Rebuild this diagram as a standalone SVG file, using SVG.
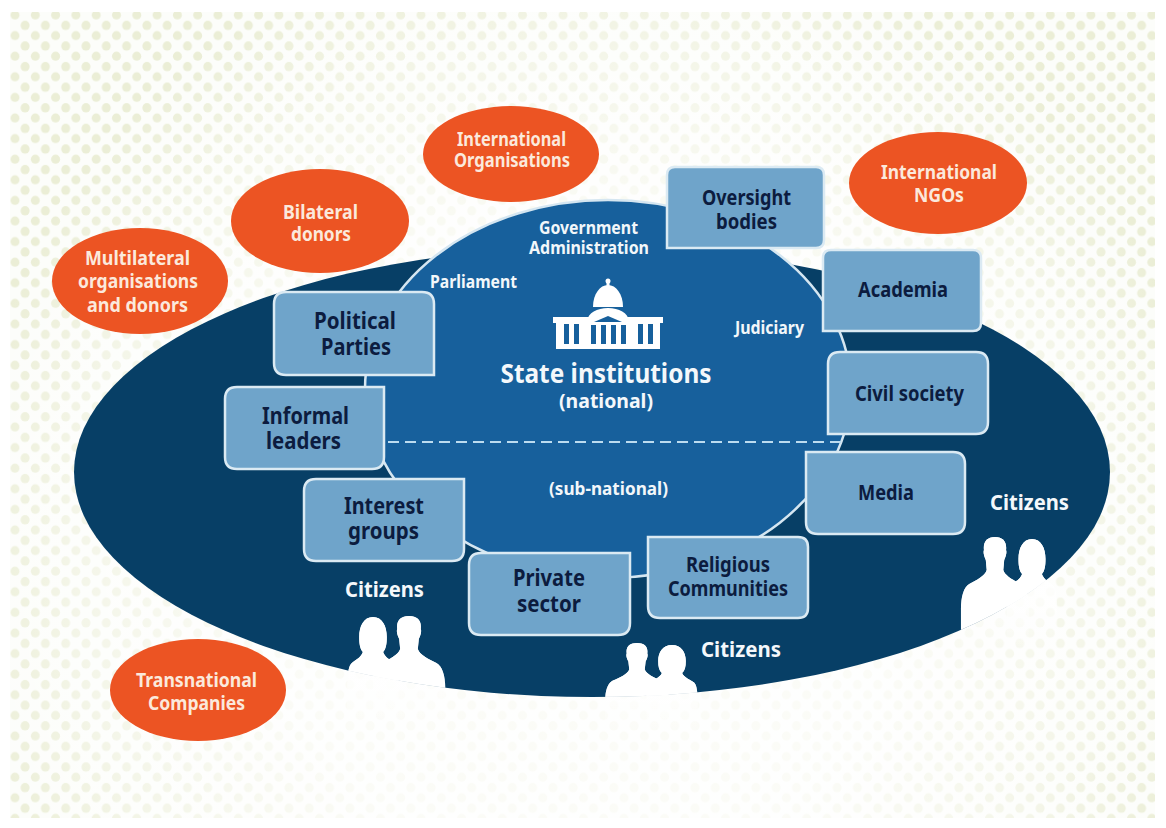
<svg xmlns="http://www.w3.org/2000/svg" width="1166" height="828" viewBox="0 0 1166 828">
<style>
text{font-family:"Noto Sans","Liberation Sans",sans-serif;font-weight:700;text-anchor:middle}
.o{fill:#ec5423}
.ot{fill:#fbe9dc;font-size:19px}
.b{fill:#6fa4ca;stroke:#dbeaf3;stroke-width:2.5}
.bt{fill:#0c1c3f;font-size:21px}
.bl{fill:#0c1c3f;font-size:23px}
.w{fill:#f2f7fa;font-size:17px}
.c{fill:#f4f8fb;font-size:21px}
.s{fill:#fff}
.f{fill:url(#pf)}
</style>
<defs>
<pattern id="dots" width="20.3" height="20.6" patternUnits="userSpaceOnUse" x="4.8" y="5">
<circle cx="10.2" cy="10" r="4.500" fill="#ebeed6"/>
<circle cx="20.3" cy="20.3" r="4.500" fill="#ebeed6"/>
<circle cx="0" cy="20.3" r="4.500" fill="#ebeed6"/>
<circle cx="20.3" cy="0" r="4.500" fill="#ebeed6"/>
<circle cx="0" cy="0" r="4.500" fill="#ebeed6"/>
</pattern>
<radialGradient id="fade" gradientUnits="userSpaceOnUse" cx="590" cy="560" r="640">
<stop offset="0.5" stop-color="#fff" stop-opacity="0.8"/>
<stop offset="0.8" stop-color="#fff" stop-opacity="0.45"/>
<stop offset="1" stop-color="#fff" stop-opacity="0"/>
</radialGradient>
<linearGradient id="pf" gradientUnits="userSpaceOnUse" x1="0" y1="40" x2="0" y2="112">
<stop offset="0" stop-color="#fff" stop-opacity="0.95"/>
<stop offset="1" stop-color="#fff" stop-opacity="0"/>
</linearGradient>
<clipPath id="field"><ellipse cx="592" cy="472" rx="518" ry="225"/></clipPath>
<path id="man" d="M0,0C9,0 13,5 12,13C13,15 12,19 10,23L9,33C11,39 20,43 28,47C34,50 37,60 37,72L37,112L-37,112L-37,72C-37,60 -34,50 -28,47C-20,43 -11,39 -9,33L-10,23C-12,19 -13,15 -12,13C-13,5 -9,0 0,0Z"/>
<path id="woman" d="M0,0C10,0 15,9 15,20C15,27 14,32 11,35C13,41 20,43 24,47C27,50 28,60 28,72L28,112L-28,112L-28,72C-28,60 -27,50 -24,47C-20,43 -13,41 -11,35C-14,32 -15,27 -15,20C-15,9 -10,0 0,0Z"/>
</defs>
<rect width="1166" height="828" fill="#fff"/>
<g id="background">
<rect x="10" y="12" width="1145" height="806" fill="#fcfdfa"/>
<rect x="10" y="12" width="1145" height="806" fill="url(#dots)"/>
<rect x="10" y="12" width="1145" height="806" fill="url(#fade)"/>
</g>
<g id="citizens-field"><ellipse cx="592" cy="472" rx="518" ry="225" fill="#073f66"/></g>
<g id="state-institutions">
<ellipse cx="608" cy="389" rx="243" ry="189" fill="#17609c" stroke="#d5e6f1" stroke-width="2.5"/>
<g id="capitol" fill="#fff">
<circle cx="608" cy="281" r="2.5"/>
<rect x="606.500" y="281" width="3" height="7"/>
<path d="M593,307C593,294 600,285 608,285C616,285 623,294 623,307Z"/>
<path d="M587,321C588,313 597,308 608,308C619,308 628,313 629,321Z"/>
<rect x="553" y="317" width="110" height="6"/>
<rect x="556" y="323" width="104" height="26"/>
<path d="M594,322L608,316L622,322Z" fill="#17609c"/>
<g fill="#17609c">
<rect x="564" y="324" width="5" height="20"/><rect x="574" y="324" width="5" height="20"/>
<rect x="591" y="325" width="5" height="19"/><rect x="601" y="325" width="5" height="19"/><rect x="611" y="325" width="5" height="19"/><rect x="621" y="325" width="5" height="19"/>
<rect x="638" y="324" width="5" height="20"/><rect x="648" y="324" width="5" height="20"/>
</g>
</g>
<text x="606" y="383" font-size="26" fill="#f4f8fb" textLength="211" lengthAdjust="spacingAndGlyphs">State institutions</text>
<text x="606" y="408" font-size="20" fill="#f4f8fb" textLength="94" lengthAdjust="spacingAndGlyphs">(national)</text>
<text x="608.500" y="495" class="w" textLength="119" lengthAdjust="spacingAndGlyphs">(sub-national)</text>
<text x="588.500" y="234" class="w" textLength="99" lengthAdjust="spacingAndGlyphs">Government</text>
<text x="589" y="254" class="w" textLength="120" lengthAdjust="spacingAndGlyphs">Administration</text>
<text x="473.500" y="288" class="w" textLength="87" lengthAdjust="spacingAndGlyphs">Parliament</text>
<text x="769.500" y="334" class="w" textLength="69" lengthAdjust="spacingAndGlyphs">Judiciary</text>
</g>
<g id="connectors">
<line x1="388" y1="442" x2="845" y2="442" stroke="#bcdcf0" stroke-width="2" stroke-dasharray="11 6"/>
</g>
<g id="political-parties"><path class="b" d="M286,292H422Q434,292 434,304V375H286Q274,375 274,363V304Q274,292 286,292Z"/><text x="355" y="329" class="bl" textLength="82" lengthAdjust="spacingAndGlyphs">Political</text><text x="356" y="355" class="bl" textLength="70" lengthAdjust="spacingAndGlyphs">Parties</text></g>
<g id="informal-leaders"><path class="b" d="M237,387H384V457Q384,469 372,469H237Q225,469 225,457V399Q225,387 237,387Z"/><text x="305.500" y="424" class="bl" textLength="87" lengthAdjust="spacingAndGlyphs">Informal</text><text x="303.500" y="449" class="bl" textLength="75" lengthAdjust="spacingAndGlyphs">leaders</text></g>
<g id="interest-groups"><path class="b" d="M316,479H464V549Q464,561 452,561H316Q304,561 304,549V491Q304,479 316,479Z"/><text x="384" y="514" class="bl" textLength="80" lengthAdjust="spacingAndGlyphs">Interest</text><text x="383.500" y="539" class="bl" textLength="71" lengthAdjust="spacingAndGlyphs">groups</text></g>
<g id="private-sector"><path class="b" d="M481,553H630V623Q630,635 618,635H481Q469,635 469,623V565Q469,553 481,553Z"/><text x="549" y="586" class="bl" textLength="72" lengthAdjust="spacingAndGlyphs">Private</text><text x="549" y="612" class="bl" textLength="64" lengthAdjust="spacingAndGlyphs">sector</text></g>
<g id="religious-communities"><path class="b" d="M648,537H798Q808,537 808,547V608Q808,618 798,618H660Q648,618 648,606Z"/><text x="728" y="572" class="bt" textLength="84" lengthAdjust="spacingAndGlyphs">Religious</text><text x="728" y="596" class="bt" textLength="120" lengthAdjust="spacingAndGlyphs">Communities</text></g>
<g id="media"><path class="b" d="M806,452H953Q965,452 965,464V522Q965,534 953,534H818Q806,534 806,522Z"/><text x="886" y="500" class="bt" textLength="56" lengthAdjust="spacingAndGlyphs">Media</text></g>
<g id="civil-society"><path class="b" d="M840,352H976Q988,352 988,364V422Q988,434 976,434H828V364Q828,352 840,352Z"/><text x="909.500" y="401" class="bt" textLength="109" lengthAdjust="spacingAndGlyphs">Civil society</text></g>
<g id="academia"><path class="b" d="M831,250H973Q981,250 981,258V323Q981,331 973,331H823V258Q823,250 831,250Z"/><text x="903" y="297" class="bt" textLength="90" lengthAdjust="spacingAndGlyphs">Academia</text></g>
<g id="oversight-bodies"><path class="b" d="M675,167H816Q824,167 824,175V240Q824,248 816,248H667V175Q667,167 675,167Z"/><text x="746.500" y="205" class="bt" textLength="89" lengthAdjust="spacingAndGlyphs">Oversight</text><text x="746.500" y="229" class="bt" textLength="61" lengthAdjust="spacingAndGlyphs">bodies</text></g>
<g id="international-organisations"><ellipse class="o" cx="511" cy="154" rx="88" ry="48"/><text x="511.500" y="146" class="ot" textLength="109" lengthAdjust="spacingAndGlyphs">International</text><text x="512" y="167" class="ot" textLength="116" lengthAdjust="spacingAndGlyphs">Organisations</text></g>
<g id="international-ngos"><ellipse class="o" cx="938" cy="183" rx="89" ry="51"/><text x="939" y="179" class="ot" textLength="116" lengthAdjust="spacingAndGlyphs">International</text><text x="939" y="202" class="ot" textLength="50" lengthAdjust="spacingAndGlyphs">NGOs</text></g>
<g id="bilateral-donors"><ellipse class="o" cx="320" cy="221" rx="89" ry="52"/><text x="320.500" y="219" class="ot" textLength="75" lengthAdjust="spacingAndGlyphs">Bilateral</text><text x="321" y="241" class="ot" textLength="60" lengthAdjust="spacingAndGlyphs">donors</text></g>
<g id="multilateral-organisations"><ellipse class="o" cx="140" cy="281" rx="88" ry="53"/><text x="137.500" y="265" class="ot" textLength="105" lengthAdjust="spacingAndGlyphs">Multilateral</text><text x="138" y="288" class="ot" textLength="120" lengthAdjust="spacingAndGlyphs">organisations</text><text x="137.500" y="312" class="ot" textLength="101" lengthAdjust="spacingAndGlyphs">and donors</text></g>
<g id="transnational-companies"><ellipse class="o" cx="198" cy="690" rx="88" ry="51"/><text x="196.500" y="687" class="ot" textLength="121" lengthAdjust="spacingAndGlyphs">Transnational</text><text x="196.500" y="710" class="ot" textLength="97" lengthAdjust="spacingAndGlyphs">Companies</text></g>
<g id="citizens-left">
<use href="#woman" class="f" transform="translate(373,617) scale(.92,1)"/>
<use href="#man" class="f" transform="translate(409,616) scale(.98,1)"/>
<g clip-path="url(#field)">
<use href="#woman" class="s" transform="translate(373,617) scale(.92,1)"/>
<use href="#man" class="s" transform="translate(409,616) scale(.98,1)"/>
</g>
<text x="384.500" y="597" class="c" textLength="79" lengthAdjust="spacingAndGlyphs">Citizens</text>
</g>
<g id="citizens-middle">
<use href="#man" class="f" transform="translate(637,643) scale(.86,.8)"/>
<use href="#woman" class="f" transform="translate(672,645) scale(.92,.8)"/>
<g clip-path="url(#field)">
<use href="#man" class="s" transform="translate(637,643) scale(.86,.8)"/>
<use href="#woman" class="s" transform="translate(672,645) scale(.92,.8)"/>
</g>
<text x="741" y="657" class="c" textLength="80" lengthAdjust="spacingAndGlyphs">Citizens</text>
</g>
<g id="citizens-right">
<use href="#man" class="f" transform="translate(995,537) scale(.92,1)"/>
<use href="#woman" class="f" transform="translate(1032,539) scale(.9,1)"/>
<g clip-path="url(#field)">
<use href="#man" class="s" transform="translate(995,537) scale(.92,1)"/>
<use href="#woman" class="s" transform="translate(1032,539) scale(.9,1)"/>
</g>
<text x="1029.500" y="510" class="c" textLength="79" lengthAdjust="spacingAndGlyphs">Citizens</text>
</g>
</svg>
